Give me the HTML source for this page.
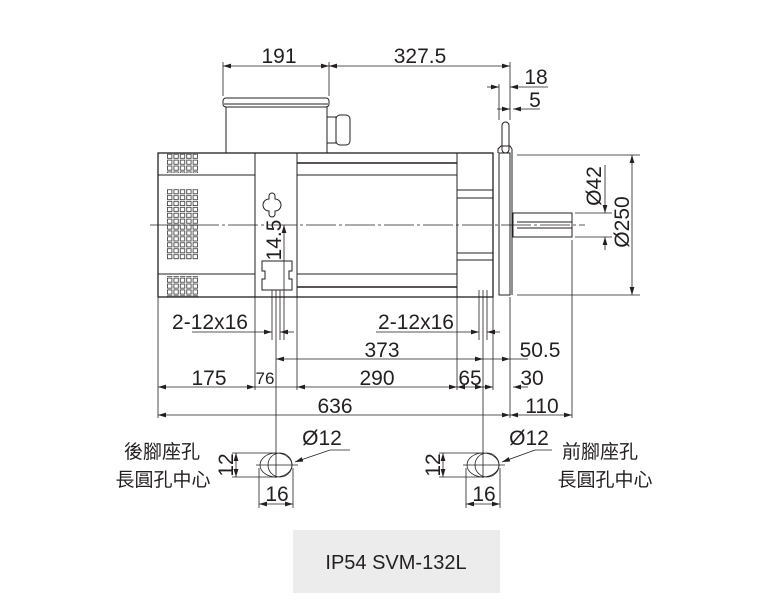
<!DOCTYPE html>
<html><head><meta charset="utf-8"><style>
html,body{margin:0;padding:0;background:#fff;}
svg{display:block;}
text{font-family:"Liberation Sans","Noto Sans CJK TC",sans-serif;fill:#231f20;}
</style></head><body>
<svg width="768" height="611" viewBox="0 0 768 611" xmlns="http://www.w3.org/2000/svg">
<defs>
<pattern id="vent" x="167" y="0" width="6.4" height="5.9" patternUnits="userSpaceOnUse">
<rect x="0.5" y="0.8" width="4.4" height="4.2" fill="none" stroke="#333" stroke-width="0.8"/>
</pattern>
<marker id="a" viewBox="0 0 10 6" refX="10" refY="3" markerWidth="8" markerHeight="5" orient="auto-start-reverse" markerUnits="userSpaceOnUse"><path d="M0,0 L10,3 L0,6 z" fill="#231f20"/></marker>
</defs>
<g stroke="#231f20" fill="none" stroke-width="1">
<rect x="226" y="107" width="101" height="46"/>
<rect x="223" y="98" width="106" height="9" rx="3"/>
<line x1="224" y1="104" x2="328" y2="104"/>
<rect x="327" y="117" width="9" height="26"/>
<rect x="336" y="115" width="14" height="30" rx="4"/>
<rect x="158" y="153" width="335" height="144" stroke-width="1.3"/>
<line x1="158" y1="175" x2="255" y2="175"/>
<line x1="158" y1="274" x2="255" y2="274"/>
<line x1="255" y1="153" x2="255" y2="297"/>
<line x1="297" y1="153" x2="297" y2="297"/>
<line x1="457" y1="153" x2="457" y2="297"/>
<line x1="297" y1="163" x2="457" y2="163" stroke-width="1.6"/>
<line x1="297" y1="175" x2="457" y2="175"/>
<line x1="297" y1="274" x2="457" y2="274"/>
<line x1="297" y1="287" x2="457" y2="287" stroke-width="1.6"/>
<line x1="457" y1="190" x2="493" y2="190"/>
<line x1="457" y1="198" x2="493" y2="198"/>
<line x1="457" y1="253" x2="493" y2="253"/>
<line x1="457" y1="260" x2="493" y2="260"/>
<rect x="167" y="153" width="32" height="20" fill="url(#vent)" stroke="none"/>
<rect x="167" y="189" width="32" height="71" fill="url(#vent)" stroke="none"/>
<rect x="167" y="276" width="32" height="21" fill="url(#vent)" stroke="none"/>
<path d="M269,196 a3,3 0 0 1 6,0 v3 a6,6 0 0 1 0,12 v3 a3,3 0 0 1 -6,0 v-3 a6,6 0 0 1 0,-12 z"/>
<path d="M262,261 h30 v10 h-3 v8 h3 v11 h-30 v-11 h3 v-8 h-3 z"/>
<rect x="499" y="153" width="11" height="142"/>
<line x1="512" y1="153" x2="512" y2="295"/>
<rect x="502" y="122" width="7" height="31" rx="3.5"/>
<path d="M498,153 v-4 l3,-3 h9 l2,3 v4"/>
<rect x="513" y="213" width="59" height="24"/>
<line x1="517" y1="222" x2="572" y2="222"/>
<line x1="517" y1="228" x2="572" y2="228"/>
<line x1="150" y1="225" x2="585" y2="225" stroke-width="0.8" stroke-dasharray="30,3,3,3"/>
</g>
<g stroke="#231f20" fill="none" stroke-width="0.8">
<line x1="223" y1="62" x2="223" y2="96"/>
<line x1="329" y1="62" x2="329" y2="96"/>
<line x1="510" y1="62" x2="510" y2="120"/>
<line x1="499" y1="84" x2="499" y2="120"/>
<line x1="223" y1="66" x2="329" y2="66" marker-start="url(#a)" marker-end="url(#a)"/>
<line x1="329" y1="66" x2="510" y2="66" marker-start="url(#a)" marker-end="url(#a)"/>
<line x1="487" y1="87" x2="499" y2="87" marker-end="url(#a)"/>
<line x1="510" y1="87" x2="548" y2="87" marker-start="url(#a)"/>
<line x1="497" y1="109" x2="510" y2="109"/>
<line x1="513" y1="109" x2="540" y2="109" marker-start="url(#a)"/>
<line x1="505" y1="109" x2="510" y2="109" marker-end="url(#a)"/>
<line x1="517" y1="155" x2="640" y2="155"/>
<line x1="517" y1="295" x2="640" y2="295"/>
<line x1="632" y1="155" x2="632" y2="295" marker-start="url(#a)" marker-end="url(#a)"/>
<line x1="575" y1="213" x2="612" y2="213"/>
<line x1="575" y1="237" x2="612" y2="237"/>
<line x1="605" y1="165" x2="605" y2="213" marker-end="url(#a)"/>
<line x1="605" y1="237" x2="605" y2="250" marker-start="url(#a)"/>
<line x1="158" y1="297" x2="158" y2="418"/>
<line x1="255" y1="297" x2="255" y2="390"/>
<line x1="297" y1="297" x2="297" y2="390"/>
<line x1="457" y1="297" x2="457" y2="390"/>
<line x1="493" y1="297" x2="493" y2="390"/>
<line x1="510" y1="297" x2="510" y2="418"/>
<line x1="572" y1="240" x2="572" y2="418"/>
<line x1="276" y1="290" x2="276" y2="478"/>
<line x1="272" y1="290" x2="272" y2="340"/>
<line x1="280" y1="290" x2="280" y2="340"/>
<line x1="483" y1="290" x2="483" y2="478"/>
<line x1="479" y1="290" x2="479" y2="340"/>
<line x1="487" y1="290" x2="487" y2="340"/>
<line x1="284" y1="225" x2="284" y2="340" marker-start="url(#a)"/>
<line x1="192" y1="332" x2="272" y2="332" marker-end="url(#a)"/>
<line x1="280" y1="332" x2="294" y2="332" marker-start="url(#a)"/>
<line x1="376" y1="332" x2="479" y2="332" marker-end="url(#a)"/>
<line x1="487" y1="332" x2="500" y2="332" marker-start="url(#a)"/>
<line x1="276" y1="359" x2="483" y2="359" marker-start="url(#a)" marker-end="url(#a)"/>
<line x1="483" y1="359" x2="510" y2="359" marker-end="url(#a)"/>
<line x1="510" y1="359" x2="528" y2="359"/>
<line x1="158" y1="387" x2="255" y2="387" marker-start="url(#a)" marker-end="url(#a)"/>
<line x1="255" y1="387" x2="297" y2="387"/>
<line x1="297" y1="387" x2="457" y2="387" marker-start="url(#a)" marker-end="url(#a)"/>
<line x1="457" y1="387" x2="483" y2="387" marker-start="url(#a)" marker-end="url(#a)"/>
<line x1="483" y1="387" x2="493" y2="387" marker-end="url(#a)"/>
<line x1="513" y1="387" x2="528" y2="387" marker-start="url(#a)"/>
<line x1="158" y1="415" x2="510" y2="415" marker-start="url(#a)" marker-end="url(#a)"/>
<line x1="510" y1="415" x2="572" y2="415" marker-start="url(#a)" marker-end="url(#a)"/>
<ellipse cx="276" cy="465" rx="16" ry="12"/>
<ellipse cx="280" cy="465" rx="12" ry="12"/>
<ellipse cx="483" cy="465" rx="16" ry="12"/>
<ellipse cx="487" cy="465" rx="12" ry="12"/>
<line x1="256" y1="465" x2="298" y2="465"/>
<line x1="463" y1="465" x2="505" y2="465"/>
<line x1="232" y1="453" x2="276" y2="453"/>
<line x1="232" y1="477" x2="276" y2="477"/>
<line x1="236" y1="453" x2="236" y2="477" marker-start="url(#a)" marker-end="url(#a)"/>
<line x1="439" y1="453" x2="483" y2="453"/>
<line x1="439" y1="477" x2="483" y2="477"/>
<line x1="443" y1="453" x2="443" y2="477" marker-start="url(#a)" marker-end="url(#a)"/>
<line x1="259" y1="468" x2="259" y2="508"/>
<line x1="293" y1="468" x2="293" y2="508"/>
<line x1="259" y1="504" x2="293" y2="504" marker-start="url(#a)" marker-end="url(#a)"/>
<line x1="466" y1="468" x2="466" y2="508"/>
<line x1="500" y1="468" x2="500" y2="508"/>
<line x1="466" y1="504" x2="500" y2="504" marker-start="url(#a)" marker-end="url(#a)"/>
<line x1="295" y1="462" x2="330" y2="450" marker-start="url(#a)"/>
<line x1="330" y1="450" x2="350" y2="450"/>
<line x1="502" y1="462" x2="535" y2="450" marker-start="url(#a)"/>
<line x1="535" y1="450" x2="552" y2="450"/>
</g>
<g font-size="21">
<text x="279" y="63" text-anchor="middle">191</text>
<text x="420" y="63" text-anchor="middle">327.5</text>
<text x="536" y="84" text-anchor="middle">18</text>
<text x="535" y="107" text-anchor="middle">5</text>
<text transform="translate(601,186) rotate(-90)" text-anchor="middle">Ø42</text>
<text transform="translate(629,222) rotate(-90)" text-anchor="middle">Ø250</text>
<text transform="translate(281,240) rotate(-90)" text-anchor="middle">14.5</text>
<text x="210" y="329" text-anchor="middle">2-12x16</text>
<text x="416" y="329" text-anchor="middle">2-12x16</text>
<text x="382" y="357" text-anchor="middle">373</text>
<text x="540" y="357" text-anchor="middle">50.5</text>
<text x="209" y="385" text-anchor="middle">175</text>
<text x="265" y="384" text-anchor="middle" font-size="17">76</text>
<text x="377" y="385" text-anchor="middle">290</text>
<text x="470" y="385" text-anchor="middle">65</text>
<text x="532" y="385" text-anchor="middle">30</text>
<text x="335" y="413" text-anchor="middle">636</text>
<text x="542" y="413" text-anchor="middle">110</text>
<text x="322" y="445" text-anchor="middle">Ø12</text>
<text x="529" y="445" text-anchor="middle">Ø12</text>
<text transform="translate(233,465) rotate(-90)" text-anchor="middle">12</text>
<text transform="translate(440,465) rotate(-90)" text-anchor="middle">12</text>
<text x="277" y="501" text-anchor="middle">16</text>
<text x="484" y="501" text-anchor="middle">16</text>
<text x="162" y="458" text-anchor="middle" font-size="19">後腳座孔</text>
<text x="163" y="486" text-anchor="middle" font-size="19">長圓孔中心</text>
<text x="600" y="458" text-anchor="middle" font-size="19">前腳座孔</text>
<text x="605" y="486" text-anchor="middle" font-size="19">長圓孔中心</text>
</g>
<rect x="293" y="530" width="207" height="63" fill="#ececec"/>
<text x="396" y="569" text-anchor="middle" font-size="20" fill="#333">IP54 SVM-132L</text>
</svg>
</body></html>
